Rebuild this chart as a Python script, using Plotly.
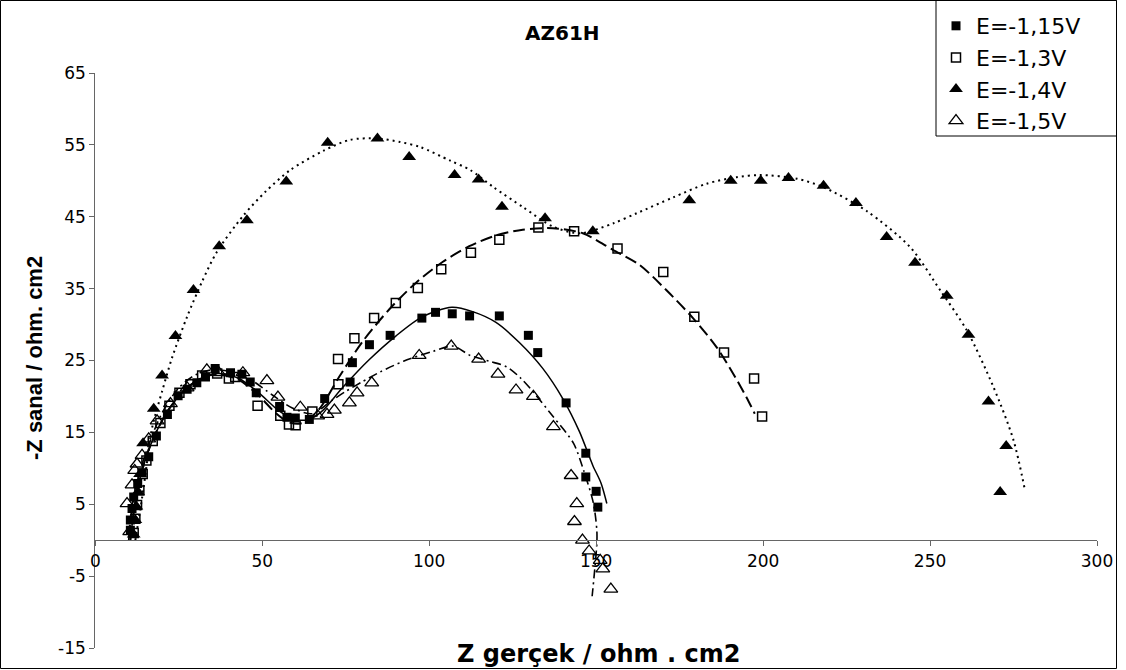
import plotly.graph_objects as go

# ---------------- data ----------------
x_115 = [10.5, 10.5, 11.0, 11.5, 12.7, 14.0, 16.0, 18.3, 21.6, 24.8, 27.5, 30.4, 33.0, 35.9, 40.5,
         43.9, 46.4, 48.2, 55.2, 57.4, 59.9, 64.1, 68.7, 76.3, 77.0, 82.1, 88.3, 97.8, 101.9,
         106.9, 112.1, 121.0, 129.7, 132.5, 141.0, 146.9, 146.9, 150.0, 150.5]
y_115 = [1.4, 2.8, 4.4, 6.0, 7.9, 9.4, 11.6, 14.5, 17.5, 20.1, 21.0, 21.9, 22.7, 23.9, 23.3,
         23.1, 22.0, 20.5, 18.6, 17.1, 17.0, 16.8, 19.7, 22.0, 24.7, 27.2, 28.5, 30.9, 31.7,
         31.5, 31.2, 31.2, 28.5, 26.1, 19.1, 12.1, 8.8, 6.8, 4.6]

x_130 = [11.5, 12.0, 12.5, 13.2, 14.2, 15.3, 17.2, 19.5, 22.2, 25.2, 28.5, 32.0, 36.5, 40.0,
         41.9, 48.6, 55.4, 58.0, 60.0, 65.0, 72.7, 72.8, 77.6, 83.5, 90.0, 96.6, 103.6, 112.5,
         121.0, 132.7, 143.4, 156.4, 170.1, 179.4, 188.3, 197.3, 199.7]
y_130 = [1.0, 3.0, 4.9, 6.9, 9.2, 11.1, 13.8, 16.3, 18.7, 20.5, 21.7, 22.9, 23.2, 22.5,
         22.7, 18.7, 17.3, 16.1, 16.0, 17.9, 25.2, 21.7, 28.1, 30.9, 33.0, 35.1, 37.7, 40.0,
         41.8, 43.5, 43.0, 40.6, 37.3, 31.1, 26.1, 22.5, 17.2]

x_140 = [11.5, 12.0, 12.3, 12.8, 13.4, 14.3, 17.5, 20.0, 24.0, 29.4, 37.1, 45.4, 57.2, 69.6,
         84.5, 94.0, 107.6, 114.8, 121.8, 134.7, 149.0, 177.9, 190.3, 199.3, 207.6, 218.1,
         227.8, 237.0, 245.5, 255.0, 261.5, 267.5, 272.8, 271.0]
y_140 = [0.8, 2.8, 4.7, 6.7, 9.2, 13.5, 18.3, 22.9, 28.4, 34.8, 40.9, 44.5, 49.9, 55.3,
         55.9, 53.3, 50.8, 50.2, 46.4, 44.8, 43.0, 47.3, 50.0, 50.0, 50.4, 49.3,
         46.9, 42.2, 38.6, 34.0, 28.6, 19.3, 13.1, 6.7]

x_150 = [10.3, 9.5, 11.0, 11.8, 12.5, 14.0, 16.0, 18.5, 22.5, 27.5, 33.4, 37.0, 44.2, 51.4,
         54.7, 61.4, 66.6, 69.4, 71.6, 76.1, 78.4, 82.8, 97.0, 106.6, 114.8, 120.6, 126.0,
         131.2, 137.2, 142.5, 144.2, 143.5, 145.9, 147.9, 151.2, 152.0, 154.4]
y_150 = [1.2, 5.1, 7.7, 9.7, 10.6, 11.8, 14.1, 16.6, 19.0, 21.2, 23.7, 23.3, 23.3, 22.2,
         19.9, 18.5, 17.3, 17.5, 18.1, 19.1, 20.5, 21.9, 25.7, 27.0, 25.2, 23.1, 20.9,
         20.0, 15.8, 9.0, 5.1, 2.6, 0.0, -1.5, -2.8, -4.0, -6.8]

# fitted curves
fx_115 = [10.5, 11.5, 13, 15, 18, 22, 27, 32, 37, 43, 49, 55, 60, 64, 68, 74, 82, 90, 98,
          106.8, 113, 120, 127, 134, 140, 145, 149, 151.5, 153.2]
fy_115 = [0, 3.9, 7.9, 11.3, 14.8, 18.2, 21.0, 22.6, 23.2, 22.5, 20.5, 18.0, 16.8, 16.8,
          18.0, 21.2, 25.1, 28.4, 31.1, 32.4, 31.8, 30.3, 27.5, 23.9, 19.7, 15.1, 10.4, 7.9, 5.1]

fx_130 = [10.5, 11.5, 13, 15, 18, 22, 27, 32, 37, 43, 49, 54, 58, 62, 67, 73, 80, 88, 96,
          104, 112, 120, 128, 137, 146, 155, 163, 171, 179, 186, 191, 195, 197.5]
fy_130 = [0, 3.9, 7.9, 11.3, 14.8, 18.2, 21.0, 22.6, 23.1, 22.3, 20.1, 17.7, 16.4, 16.3,
          18.2, 22.7, 27.6, 32.1, 35.8, 38.7, 40.9, 42.4, 43.2, 43.4, 42.7, 40.4, 38.3, 34.8,
          30.9, 26.9, 23.2, 19.9, 17.6]

fx_140 = [12, 14.5, 17, 20, 23, 27.5, 32, 36.4, 44.4, 51, 58.4, 68.4, 76.3, 84.3, 91.3, 97.3,
          106.3, 112.3, 119.3, 128.2, 137.2, 145.2, 155.2, 162.2, 173.1, 183.1, 192.1, 199.1,
          210.1, 218.1, 231, 244, 253, 261, 269, 275, 278.4]
fy_140 = [0, 7.4, 15.6, 20.7, 25.4, 31.1, 36.0, 40.1, 45.2, 48.5, 51.5, 54.2, 55.7, 55.9,
          55.4, 54.7, 52.8, 51.5, 49.1, 46.3, 43.6, 42.7, 44.1, 45.5, 47.7, 49.6, 50.5, 50.8,
          50.3, 49.1, 45.8, 40.8, 34.8, 29.2, 21.3, 13.9, 7.0]

fx_150 = [10, 11, 13, 16, 20, 25, 30, 35, 41, 47, 53, 59, 65, 70.4, 75, 79.8, 85.3, 92.3,
          101.3, 107.2, 112.3, 118, 123.3, 127.5, 131.2, 137.1, 143.2, 146.2, 149.2, 150.2,
          150.2, 148.8]
fy_150 = [0, 4.4, 8.9, 13.3, 17.7, 21.2, 23.0, 23.7, 23.4, 22.2, 20.2, 18.4, 17.6, 19.3,
          20.7, 22.0, 23.4, 24.9, 26.3, 27.0, 25.7, 24.9, 24.1, 22.5, 20.6, 17.2, 13.5, 9.8,
          5.1, 1.4, -0.5, -7.8]

names = ["E=-1,15V", "E=-1,3V", "E=-1,4V", "E=-1,5V"]
x_ticks = [0, 50, 100, 150, 200, 250, 300]
y_ticks = [-15, -5, 5, 15, 25, 35, 45, 55, 65]

# ---------------- figure ----------------
fig = go.Figure()

fits = [
    (fx_115, fy_115, "solid", 1.5),
    (fx_130, fy_130, "12px,5px", 2),
    (fx_140, fy_140, "2px,4px", 2),
    (fx_150, fy_150, "9px,4px,2px,4px", 1.6),
]
for fx, fy, dash, w in fits:
    fig.add_trace(go.Scatter(x=fx, y=fy, mode="lines", showlegend=False, hoverinfo="skip",
                             line=dict(color="black", width=w, dash=dash, shape="spline",
                                       smoothing=0.8)))

markers = [
    (x_115, y_115, "square", 9, 0),
    (x_130, y_130, "square-open", 9, 1.5),
    (x_140, y_140, "triangle-up", 12, 0),
    (x_150, y_150, "triangle-up-open", 12, 1.3),
]
for (mx, my, sym, sz, lw), nm in zip(markers, names):
    fig.add_trace(go.Scatter(x=mx, y=my, mode="markers", name=nm,
                             marker=dict(symbol=sym, size=sz, color="black",
                                         line=dict(color="black", width=lw))))

W, H = 1126, 670
# plot area in pixels (measured on the reference)
PL, PR, PT, PB = 95.3, 1097, 73, 648


def px(xp):
    return xp / W


def py(yp):
    return 1 - yp / H


ymin, ymax = -15, 65
ydom = [py(PB), py(PT)]
FONT = "DejaVu Sans, Arial, sans-serif"

fig.update_layout(
    width=W, height=H,
    margin=dict(l=0, r=0, t=0, b=0),
    paper_bgcolor="white", plot_bgcolor="white",
    font=dict(family=FONT, color="black"),
    xaxis=dict(domain=[px(PL), px(PR)], range=[0, 300], tickvals=x_ticks,
               ticktext=[str(v) for v in x_ticks],
               showgrid=False, zeroline=False, showline=True, linecolor="#666666",
               linewidth=1, ticks="outside", ticklen=5, tickcolor="#666666",
               anchor="free",
               position=ydom[0] + (0 - ymin) / (ymax - ymin) * (ydom[1] - ydom[0]),
               automargin=False, tickfont=dict(size=17, family=FONT)),
    yaxis=dict(domain=ydom, range=[ymin, ymax], tickvals=y_ticks,
               ticktext=[str(v) for v in y_ticks],
               showgrid=False, zeroline=False, showline=True, linecolor="#666666",
               linewidth=1, ticks="outside", ticklen=5, tickcolor="#666666", automargin=False,
               tickfont=dict(size=17, family=FONT)),
    legend=dict(x=px(936), y=py(5), xanchor="left", yanchor="top",
                bgcolor="rgba(0,0,0,0)", borderwidth=0,
                font=dict(size=22, family=FONT), tracegroupgap=0),
    showlegend=True,
)

# outer chart border
fig.add_shape(type="rect", xref="paper", yref="paper",
              x0=px(0.5), x1=px(1116.5), y0=py(668.5), y1=py(0.5),
              line=dict(color="black", width=1), layer="below")
# legend box
fig.add_shape(type="rect", xref="paper", yref="paper",
              x0=px(936), x1=px(1116.5), y0=py(136), y1=py(0.5),
              line=dict(color="black", width=1), fillcolor="white", layer="above")

fig.add_annotation(text="<b>AZ61H</b>", xref="paper", yref="paper", x=px(562), y=py(33),
                   xanchor="center", yanchor="middle", showarrow=False,
                   font=dict(size=20, family=FONT))
fig.add_annotation(text="<b>Z gerçek / ohm . cm2</b>", xref="paper", yref="paper",
                   x=px(455), y=py(654), xanchor="left", yanchor="middle", showarrow=False,
                   font=dict(size=24, family=FONT))
fig.add_annotation(text="<b>-Z sanal / ohm. cm2</b>", xref="paper", yref="paper",
                   x=px(34), y=py(358), xanchor="center", yanchor="middle", showarrow=False,
                   textangle=-90,
                   font=dict(size=22, family="Liberation Sans, Arial, sans-serif"))

fig.write_html("out.html")
